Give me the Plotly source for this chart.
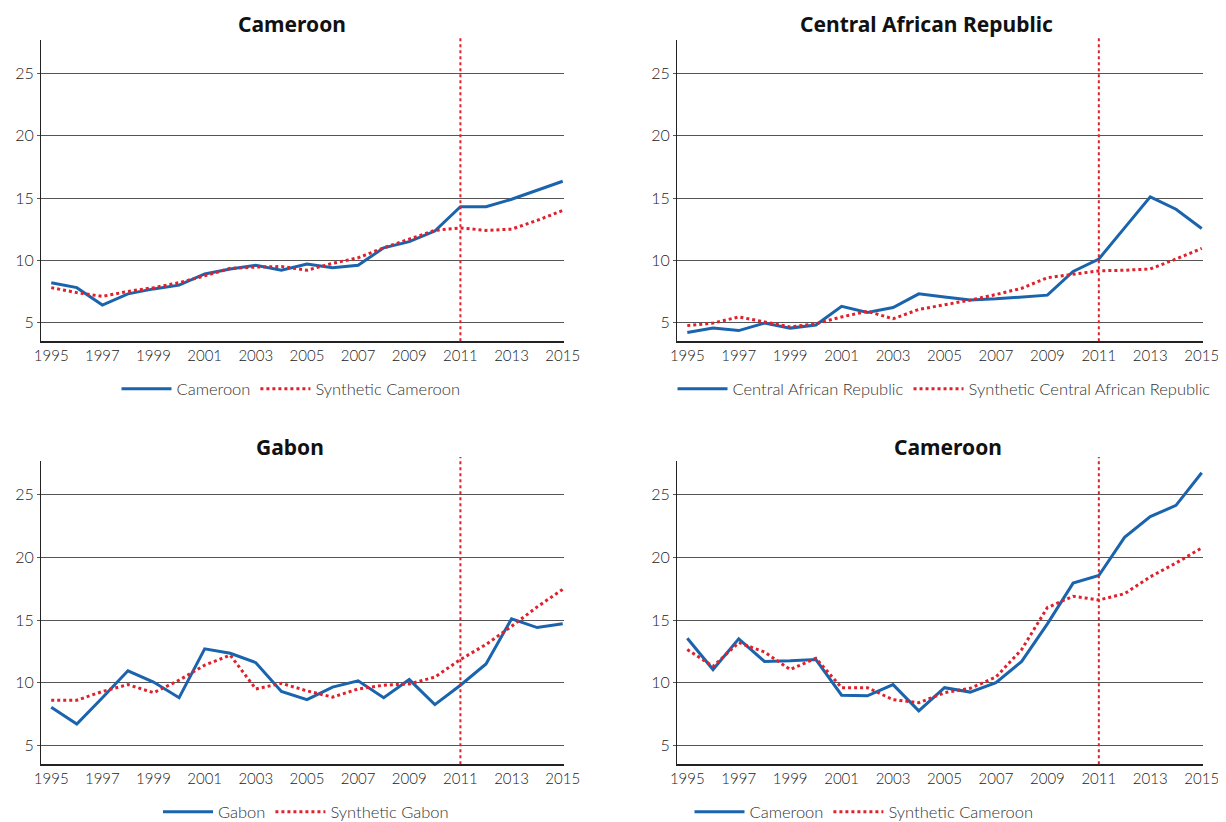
import plotly.graph_objects as go

BLUE = "#1a64ad"
RED = "#e0202b"
GRID = "#555555"

years = list(range(1995, 2016))
tick_years = list(range(1995, 2016, 2))
y_ticks = [5, 10, 15, 20, 25]

cameroon_a = [8.2, 7.8, 6.4, 7.3, 7.7, 8.0, 8.9, 9.3, 9.6, 9.2, 9.7,
              9.4, 9.6, 11.0, 11.5, 12.35, 14.3, 14.3, 14.9, 15.6, 16.35]
synth_cameroon_a = [7.8, 7.4, 7.1, 7.5, 7.8, 8.2, 8.75, 9.35, 9.45, 9.5, 9.2,
                    9.75, 10.2, 11.0, 11.7, 12.4, 12.6, 12.4, 12.5, 13.2, 14.0]

car = [4.2, 4.55, 4.35, 4.95, 4.55, 4.8, 6.3, 5.8, 6.2, 7.3, 7.05,
       6.8, 6.9, 7.05, 7.2, 9.1, 10.1, 12.6, 15.1, 14.1, 12.55]
synth_car = [4.75, 4.95, 5.45, 5.05, 4.65, 4.9, 5.45, 5.9, 5.3, 6.05, 6.4,
             6.8, 7.25, 7.75, 8.6, 8.9, 9.15, 9.2, 9.3, 10.1, 10.95]

gabon = [8.05, 6.7, 8.8, 10.95, 10.05, 8.8, 12.7, 12.35, 11.6, 9.3, 8.65,
         9.65, 10.15, 8.8, 10.25, 8.25, 9.8, 11.5, 15.1, 14.4, 14.7]
synth_gabon = [8.6, 8.6, 9.3, 9.85, 9.2, 10.2, 11.4, 12.2, 9.5, 9.95, 9.35,
               8.85, 9.5, 9.8, 9.9, 10.45, 11.85, 13.05, 14.5, 16.05, 17.45]

cameroon_b = [13.55, 11.05, 13.5, 11.7, 11.75, 11.85, 9.0, 8.95, 9.85, 7.75, 9.6,
              9.25, 10.0, 11.7, 14.7, 17.95, 18.55, 21.6, 23.25, 24.15, 26.75]
synth_cameroon_b = [12.65, 11.3, 13.2, 12.45, 11.05, 11.95, 9.6, 9.6, 8.65, 8.4, 9.2,
                    9.55, 10.45, 12.65, 16.0, 16.9, 16.6, 17.1, 18.45, 19.55, 20.75]

W, H = 1226, 822
OFF = 8  # page body margin


def px_x(p):
    return (p - OFF) / W


def px_y(p):
    return 1 - (p - OFF) / H


panels = [
    # title, actual, synthetic, actual name, synth name, x domain px, y domain px, title pos, legend pos
    ("Cameroon", cameroon_a, synth_cameroon_a, "Cameroon", "Synthetic Cameroon",
     (41, 564), (40, 342), (292, 24), (291, 390)),
    ("Central African Republic", car, synth_car, "Central African Republic",
     "Synthetic Central African Republic", (677, 1203), (40, 342), (926, 24), (944, 390)),
    ("Gabon", gabon, synth_gabon, "Gabon", "Synthetic Gabon",
     (41, 564), (462, 766), (290, 448), (306, 814)),
    ("Cameroon", cameroon_b, synth_cameroon_b, "Cameroon", "Synthetic Cameroon",
     (677, 1203), (462, 766), (948, 448), (864, 814)),
]

fig = go.Figure()
annotations = []
shapes = []
layout = {}

for i, (title, actual, synth, name_a, name_s, xd, yd, tpos, lpos) in enumerate(panels):
    n = "" if i == 0 else str(i + 1)
    xa, ya = "x" + n, "y" + n
    leg = "legend" + n
    fig.add_trace(go.Scatter(x=years, y=actual, name=name_a, mode="lines",
                             line=dict(color=BLUE, width=3), xaxis=xa, yaxis=ya, legend=leg))
    fig.add_trace(go.Scatter(x=years, y=synth, name=name_s, mode="lines",
                             line=dict(color=RED, width=3, dash="dot"), xaxis=xa, yaxis=ya, legend=leg))

    layout["xaxis" + n] = dict(
        domain=[px_x(xd[0]), px_x(xd[1])], anchor=ya, range=[1994.6, 2015.05],
        tickvals=tick_years, ticks="", showgrid=False, zeroline=False, automargin=False,
        showline=True, linecolor="#222222", linewidth=1.5,
        tickfont=dict(family="Lato", size=15, color="#222222", weight=300))
    layout["yaxis" + n] = dict(
        domain=[px_y(yd[1]), px_y(yd[0])], anchor=xa, range=[3.5, 27.7],
        tickvals=y_ticks, ticks="outside", ticklen=3, tickcolor=GRID, automargin=False,
        showgrid=True, gridcolor=GRID, gridwidth=1.2, zeroline=False,
        showline=True, linecolor="#222222", linewidth=1.2,
        tickfont=dict(family="Lato", size=16, color="#222222", weight=300))
    layout[leg] = dict(
        orientation="h", x=px_x(lpos[0]), xanchor="center", y=px_y(lpos[1]), yanchor="middle",
        font=dict(family="Lato", size=16.5, color="#333333", weight=300), bgcolor="rgba(0,0,0,0)",
        itemwidth=50)

    shapes.append(dict(type="line", xref=xa, yref="paper", x0=2011, x1=2011,
                       y0=px_y(yd[1]), y1=px_y(yd[0] - 4),
                       line=dict(color=RED, width=2, dash="dot")))
    annotations.append(dict(text="<b>" + title + "</b>", x=px_x(tpos[0]), y=px_y(tpos[1]),
                            xref="paper", yref="paper", showarrow=False,
                            xanchor="center", yanchor="middle",
                            font=dict(family="Noto Sans", size=21, color="#111111")))

fig.update_layout(
    width=W, height=H,
    margin=dict(l=0, r=0, t=0, b=0),
    paper_bgcolor="white", plot_bgcolor="white",
    showlegend=True,
    shapes=shapes, annotations=annotations,
    **layout,
)

fig.write_html("out.html")
